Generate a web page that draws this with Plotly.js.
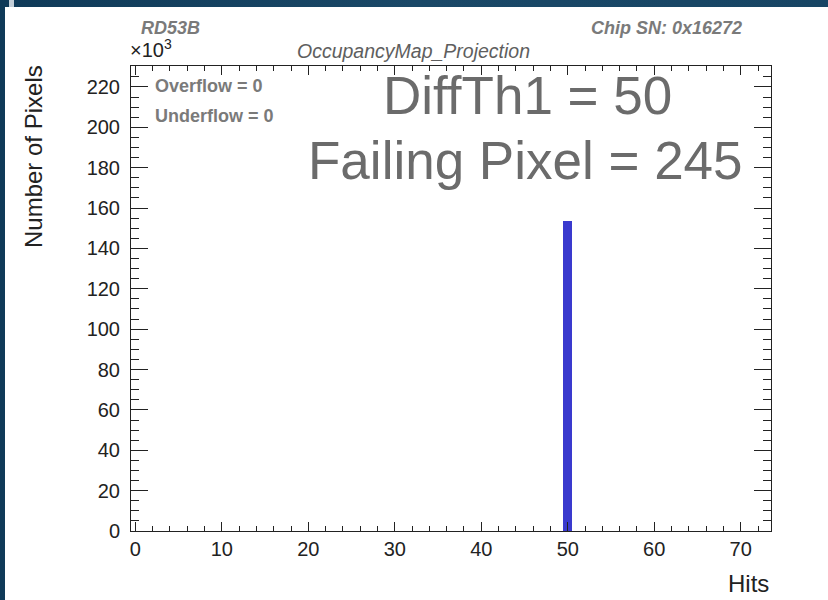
<!DOCTYPE html>
<html>
<head>
<meta charset="utf-8">
<script src="https://cdn.plot.ly/plotly-3.0.1.min.js"></script>
<style>
  html, body { margin:0; padding:0; width:828px; height:600px; overflow:hidden;
    background: linear-gradient(90deg, #0f3a58 0%, #1a4867 50%, #174564 100%); }
  #strip { position:absolute; left:9px; top:0; width:5px; height:7px; background:#c3ced8; }
  #plot { position:absolute; left:5px; top:7px; width:823px; height:593px; background:#fff; }
</style>
</head>
<body>
<div id="strip"></div>
<div id="plot"></div>
<script>
// ---- data ----
const hits = [50];
const pixels = [153355];
const yTickVals = [0, 20000, 40000, 60000, 80000, 100000, 120000, 140000, 160000, 180000, 200000, 220000];
const yTickText = ["0", "20", "40", "60", "80", "100", "120", "140", "160", "180", "200", "220"];
const xTickVals = [0, 10, 20, 30, 40, 50, 60, 70];
const overflow = 0, underflow = 0;
const diffTh1 = 50, failingPixel = 245;

// ---- geometry helpers (page pixel -> paper) ----
const PL = 131, PR = 771, PT = 66, PB = 531;
const px = x => (x - PL) / (PR - PL);
const py = y => (PB - y) / (PB - PT);

const FONT = "Liberation Sans, Arial, Helvetica, sans-serif";
const GRAY = "#7a7a7a";

const trace = {
  type: "bar", x: hits, y: pixels, width: 1,
  marker: { color: "rgb(58,58,206)", line: { width: 0 } },
  hoverinfo: "skip"
};

function ann(text, x, y, opts) {
  return Object.assign({ text: text, xref: "paper", yref: "paper", x: px(x), y: py(y),
    showarrow: false, borderpad: 0, font: { family: FONT, size: 18, color: GRAY } }, opts || {});
}

const layout = {
  width: 823, height: 593,
  margin: { l: 126, r: 57, t: 59, b: 69 },
  paper_bgcolor: "#ffffff", plot_bgcolor: "#ffffff",
  showlegend: false, bargap: 0,
  font: { family: FONT, color: "#222" },
  xaxis: {
    range: [-0.5, 73.5], tickvals: xTickVals, ticks: "inside", ticklen: 9, tickwidth: 1, tickcolor: "#222",
    showline: true, linecolor: "#222", linewidth: 1, mirror: "ticks", showgrid: false, zeroline: false,
    tickfont: { family: FONT, size: 20, color: "#222" },
    minor: { dtick: 2, tick0: 0, ticks: "inside", ticklen: 5, tickcolor: "#222", showgrid: false }
  },
  yaxis: {
    range: [0, 230400], tickvals: yTickVals, ticktext: yTickText, ticks: "inside", ticklen: 17, tickwidth: 1, tickcolor: "#222",
    showline: true, linecolor: "#222", linewidth: 1, mirror: "ticks", showgrid: false, zeroline: false,
    tickfont: { family: FONT, size: 20, color: "#222" }, ticklabelstandoff: 6,
    minor: { dtick: 5000, tick0: 0, ticks: "inside", ticklen: 8, tickcolor: "#222", showgrid: false }
  },
  annotations: [
    ann("<b><i>RD53B</i></b>", 140, 28, { xanchor: "left", yanchor: "middle" }),
    ann("<b><i>Chip SN: 0x16272</i></b>", 743, 28, { xanchor: "right", yanchor: "middle" }),
    ann("<i>OccupancyMap_Projection</i>", 413, 51, { xanchor: "center", yanchor: "middle", font: { family: FONT, size: 19.5, color: "#5e5e5e" } }),
    ann("×10<sup>3</sup>", 129, 49, { xanchor: "left", yanchor: "middle", font: { family: FONT, size: 20, color: "#222" } }),
    ann("<b>Overflow = " + overflow + "</b>", 154, 86, { xanchor: "left", yanchor: "middle", font: { family: FONT, size: 18, color: "#7a7a7a" } }),
    ann("<b>Underflow = " + underflow + "</b>", 154, 116, { xanchor: "left", yanchor: "middle", font: { family: FONT, size: 18, color: "#7a7a7a" } }),
    ann("DiffTh1 = " + diffTh1, 527, 95, { xanchor: "center", yanchor: "middle", font: { family: FONT, size: 53, color: "#6b6b6b" } }),
    ann("Failing Pixel = " + failingPixel, 525, 160, { xanchor: "center", yanchor: "middle", font: { family: FONT, size: 53, color: "#6b6b6b" } }),
    ann("Number of Pixels", 33, 157, { xanchor: "center", yanchor: "middle", textangle: -90, font: { family: FONT, size: 24, color: "#222" } }),
    ann("Hits", 770, 583, { xanchor: "right", yanchor: "middle", font: { family: FONT, size: 24, color: "#222" } })
  ]
};

Plotly.newPlot("plot", [trace], layout, { displayModeBar: false, staticPlot: true });
</script>
</body>
</html>
